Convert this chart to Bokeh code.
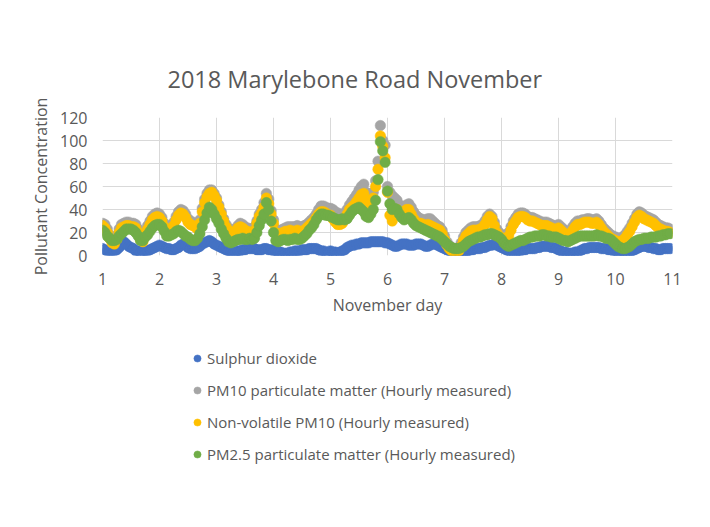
from bokeh.plotting import figure
from bokeh.models import Range1d, SingleIntervalTicker, Legend, LegendItem, Title, ColumnDataSource
from bokeh.layouts import column
from bokeh.embed import file_html
from bokeh.resources import INLINE

# ---------------- data (hourly) ----------------
series_names = ["Sulphur dioxide",
                "PM10 particulate matter (Hourly measured)",
                "Non-volatile PM10 (Hourly measured)",
                "PM2.5 particulate matter (Hourly measured)"]
series_colors = ["#4472C4", "#A5A5A5", "#FFC000", "#70AD47"]

so2 = [
    6,5,4,4,4,4,5,7,11,12,10,8,7,6,4,4,3,4,4,4,5,6,7,8,
    9,8,7,6,6,5,5,6,7,9,10,9,7,6,6,6,7,8,10,11,12,13,12,10,
    9,8,7,6,5,4,3,2,3,4,4,5,5,6,6,6,6,5,5,5,6,6,5,5,
    4,4,3,3,2,2,2,3,3,4,4,4,5,5,5,6,6,6,6,5,4,4,3,3,
    4,3,3,2,3,4,5,7,8,9,9,10,10,11,11,11,11,12,12,12,12,12,12,11,
    11,10,9,8,8,9,10,10,10,9,9,9,10,10,10,9,8,8,9,10,10,9,8,7,
    6,5,4,3,2,2,1,1,2,3,4,5,5,6,6,6,7,7,8,9,9,10,9,8,
    7,6,5,4,3,3,3,4,4,5,5,6,6,6,6,7,7,8,8,8,8,7,7,6,
    5,4,3,3,2,2,2,3,3,4,5,6,6,7,7,7,7,7,6,6,6,5,5,4,
    4,3,3,3,2,2,3,4,5,6,7,8,8,8,7,7,6,6,5,5,6,6,6,6,
]
pm10 = [
    28,27,23,18,14,13,17,23,27,28,29,29,28,28,27,23,17,15,20,26,30,34,36,37,
    36,33,28,25,23,25,29,34,38,40,39,36,32,30,29,28,26,31,41,49,54,57,57,54,
    50,44,38,32,27,24,22,22,23,26,28,27,25,24,23,23,25,30,36,40,46,54,49,39,
    31,23,21,22,23,24,25,25,25,25,26,25,25,26,27,29,31,33,36,40,43,43,42,41,
    41,40,38,37,36,36,37,40,44,47,50,53,57,60,62,55,47,48,55,65,82,113,100,96,
    60,55,52,50,48,44,42,42,44,45,42,38,35,33,32,31,31,32,32,30,28,26,25,22,
    17,12,9,7,6,6,7,11,16,20,22,24,25,25,25,26,27,30,34,36,34,29,23,20,
    18,17,18,20,25,30,33,36,37,37,36,34,33,33,32,31,30,29,29,29,28,27,26,25,
    27,25,23,21,21,22,25,28,30,30,31,31,32,32,31,31,32,30,27,24,22,20,18,17,
    16,15,15,16,18,21,24,28,32,36,38,37,35,34,33,32,31,29,27,26,25,24,24,23,
]
nv_pm10 = [
    26,24,20,15,11,10,14,20,24,25,26,26,25,25,24,20,14,12,17,23,27,31,33,34,
    33,30,25,22,20,22,26,31,35,37,36,33,29,27,26,25,23,28,38,46,51,54,55,52,
    48,42,36,30,25,22,20,20,21,24,25,24,22,21,20,20,22,28,34,37,42,50,45,36,
    28,20,18,19,20,21,21,22,21,21,22,21,21,22,24,26,28,30,33,36,38,38,37,35,
    35,32,29,27,27,28,32,36,40,42,44,47,50,53,54,48,42,42,50,60,75,104,95,85,
    55,35,30,35,40,38,36,38,40,40,36,32,29,28,28,27,26,27,26,25,24,23,22,19,
    14,9,6,4,3,3,4,8,13,17,19,21,22,22,22,23,24,27,31,34,32,26,20,17,
    15,14,15,17,22,27,30,33,34,34,33,31,30,30,29,28,27,26,26,26,25,24,23,22,
    24,22,20,18,18,19,22,25,27,27,28,29,29,29,28,28,29,27,24,21,19,17,15,14,
    13,12,12,13,15,18,21,25,29,33,35,34,32,31,30,29,28,26,24,23,22,21,21,20,
]
pm25 = [
    22,20,17,15,13,13,14,17,19,21,23,23,23,22,20,17,13,13,16,18,21,24,26,27,
    27,25,21,17,17,18,19,21,22,21,19,17,16,14,13,13,15,19,25,31,37,42,40,36,
    32,28,23,19,15,12,11,12,13,14,14,15,14,14,15,14,15,20,26,31,36,46,40,30,
    20,13,12,13,14,14,13,14,14,15,14,14,15,17,19,22,24,27,31,34,36,36,35,35,
    34,33,32,31,31,32,31,32,35,38,40,41,42,40,38,34,33,36,40,48,66,99,91,81,
    56,45,40,41,40,36,33,31,32,33,31,28,26,25,24,23,22,21,20,19,18,17,16,14,
    12,10,8,7,6,6,6,7,8,10,12,13,14,15,16,16,17,18,18,19,19,18,17,16,
    14,11,9,8,9,10,11,12,13,13,14,15,16,16,17,17,17,18,18,17,17,16,16,16,
    15,14,13,13,12,13,14,15,16,17,17,17,17,17,17,17,18,17,17,16,15,15,14,12,
    10,8,7,6,6,7,8,10,12,13,14,14,15,15,15,16,16,16,17,17,18,18,19,19,
]
hours = list(range(len(so2)))
days = [1 + h / 24 for h in hours]
series_values = [so2, pm10, nv_pm10, pm25]

# ---------------- main chart ----------------
FONT = "Open Sans"
TXT = "#595959"

p = figure(width=694, height=330, output_backend="svg", toolbar_location=None,
           x_range=Range1d(1, 11), y_range=Range1d(0, 120),
           min_border_left=102, min_border_right=22, min_border_top=117, min_border_bottom=75,
           background_fill_color="white", border_fill_color="white")
p.outline_line_color = None

p.title = Title(text="2018 Marylebone Road November", align="left", offset=65,
                text_font=FONT, text_font_size="23.5px", text_font_style="normal",
                text_color=TXT, standoff=45)

p.xaxis.ticker = SingleIntervalTicker(interval=1)
p.yaxis.ticker = SingleIntervalTicker(interval=20)
for ax in (p.xaxis, p.yaxis):
    ax.axis_line_color = None
    ax.major_tick_line_color = None
    ax.minor_tick_line_color = None
    ax.major_tick_out = 0
    ax.major_tick_in = 0
    ax.major_label_text_font = FONT
    ax.major_label_text_font_size = "16px"
    ax.major_label_text_color = TXT
    ax.axis_label_text_font = FONT
    ax.axis_label_text_font_size = "16px"
    ax.axis_label_text_font_style = "normal"
    ax.axis_label_text_color = TXT
p.xaxis.axis_label = "November day"
p.yaxis.axis_label = "Pollutant Concentration"
p.xaxis.major_label_standoff = 13
p.yaxis.major_label_standoff = 11
p.xaxis.axis_label_standoff = 6
p.yaxis.axis_label_standoff = 5

p.xgrid.grid_line_color = "#D9D9D9"
p.ygrid.grid_line_color = "#D9D9D9"

for color, vals in zip(series_colors, series_values):
    src = ColumnDataSource(dict(x=days, y=vals))
    p.scatter("x", "y", source=src, size=10.5, marker="circle",
              fill_color=color, line_color=color, line_width=0.5)

# ---------------- legend panel (below the chart) ----------------
lg = figure(width=694, height=181, output_backend="svg", toolbar_location=None,
            x_range=Range1d(-2, -1), y_range=Range1d(-2, -1),
            x_axis_type=None, y_axis_type=None, min_border=0,
            background_fill_color="white", border_fill_color="white")
lg.outline_line_color = None

items = []
for name, color, vals in zip(series_names, series_colors, series_values):
    src = ColumnDataSource(dict(x=days, y=vals))
    r = lg.scatter("x", "y", source=src, size=7.5, marker="circle",
                   fill_color=color, line_color=color, line_width=0.5)
    items.append(LegendItem(label=name, renderers=[r]))

legend = Legend(items=items, location=(86, 47), orientation="vertical",
                padding=0, margin=0, spacing=12,
                glyph_width=18, glyph_height=20, label_height=20, label_standoff=1,
                label_text_font=FONT, label_text_font_size="15px", label_text_color=TXT,
                background_fill_alpha=0, border_line_color=None)
lg.add_layout(legend, "center")

page = column(p, lg, spacing=0)
open("out.html", "w").write(file_html(page, INLINE))
